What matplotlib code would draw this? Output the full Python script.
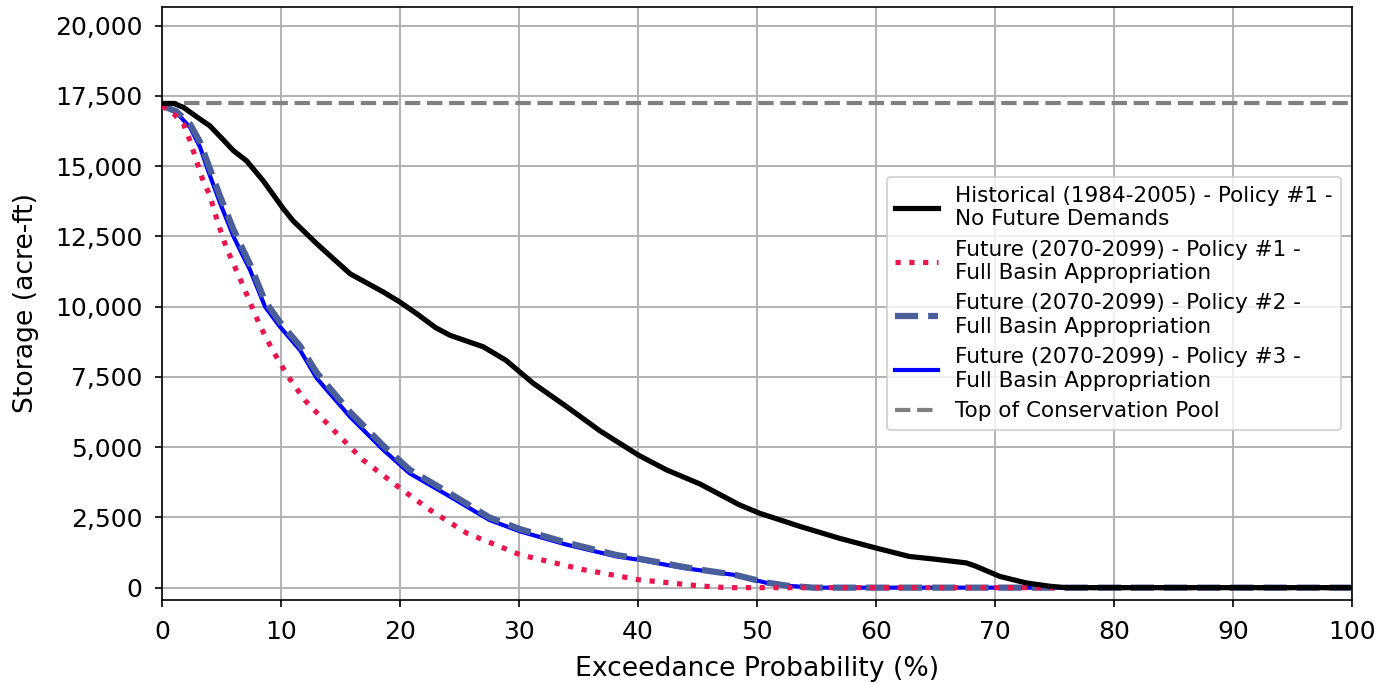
import matplotlib
matplotlib.use("Agg")
import matplotlib.pyplot as plt
from matplotlib.ticker import FuncFormatter

# exceedance probability (%) / storage (acre-ft)
hist_x = [0, 1.0, 1.8, 3.2, 4.0, 5.0, 6.0, 7.1, 8.5, 10.2, 11.0, 13.0, 15.8, 18.6, 20.0,
          21.4, 23.0, 24.2, 27.0, 28.9, 31.2, 34.0, 36.8, 40.1, 42.4, 45.2, 48.5, 50.2,
          53.6, 56.9, 60.0, 62.8, 64.8, 67.6, 68.4, 70.4, 72.6, 74.6, 76.0, 100]
hist_y = [17230, 17230, 17090, 16670, 16440, 16000, 15550, 15190, 14480, 13480, 13060, 12240,
          11170, 10520, 10160, 9750, 9250, 8980, 8570, 8090, 7270, 6440, 5580, 4700, 4190,
          3690, 2950, 2650, 2180, 1760, 1410, 1110, 1020, 880, 760, 400, 170, 50, 0, 0]

p1_x = [0, 1.0, 1.8, 2.35, 3.47, 4.0, 4.7, 5.4, 6.5, 7.4, 8.25, 9.35, 10.6, 12.0, 14.4,
        16.9, 20.0, 22.5, 25.6, 30.1, 35.4, 40.1, 45.2, 47.5, 100]
p1_y = [17150, 16850, 16500, 15900, 14450, 13975, 12970, 12100, 11050, 10150, 9300, 8400,
        7510, 6670, 5610, 4540, 3540, 2770, 1940, 1170, 640, 280, 60, 0, 0]

p2_x = [0, 1.2, 2.35, 3.2, 3.85, 4.9, 6.0, 6.55, 7.4, 8.65, 9.9, 11.6, 13.0, 15.8, 18.6,
        20.8, 24.2, 27.5, 30.1, 34.0, 38.2, 40.1, 43.8, 45.2, 48.0, 50.8, 52.5, 54.7, 100]
p2_y = [17150, 16950, 16500, 15850, 15100, 13900, 12750, 12250, 11500, 10200, 9450, 8600,
        7650, 6250, 5050, 4200, 3350, 2500, 2080, 1600, 1160, 1030, 740, 640, 470, 180, 70, 0, 0]

p3_x = [0, 1.2, 2.35, 3.2, 3.85, 4.9, 6.0, 6.55, 7.4, 8.65, 9.9, 11.6, 13.0, 15.8, 18.6,
        20.8, 24.2, 27.5, 30.1, 34.0, 38.2, 40.1, 43.8, 45.2, 48.0, 50.8, 52.5, 54.7, 100]
p3_y = [17150, 16910, 16380, 15670, 14860, 13660, 12500, 12020, 11300, 10000, 9290, 8450,
        7450, 6080, 4900, 4070, 3240, 2410, 2000, 1530, 1110, 990, 700, 620, 460, 170, 70, 0, 0]

pool_top = 17230

labels = [
    "Historical (1984-2005) - Policy #1 -\nNo Future Demands",
    "Future (2070-2099) - Policy #1 -\nFull Basin Appropriation",
    "Future (2070-2099) - Policy #2 -\nFull Basin Appropriation",
    "Future (2070-2099) - Policy #3 -\nFull Basin Appropriation",
    "Top of Conservation Pool",
]

fig = plt.figure(figsize=(1384 / 150, 683 / 150), dpi=150)
ax = fig.add_axes([0.1171, 0.1215, 0.8598, 0.8683])

h3, = ax.plot(p3_x, p3_y, color="#0000ff", lw=2.0, zorder=2, label=labels[3])
h2, = ax.plot(p2_x, p2_y, color="#4a5f99", lw=3.0, ls="--", zorder=3, label=labels[2])
h1, = ax.plot(p1_x, p1_y, color="#e8174f", lw=2.5, ls=":", zorder=4, label=labels[1])
hp = ax.axhline(pool_top, color="#808080", lw=2.0, ls="--", zorder=4.5, label=labels[4])
h0, = ax.plot(hist_x, hist_y, color="black", lw=2.5, zorder=5, label=labels[0])

ax.set_xlim(0, 100)
ax.set_ylim(-440, 20665)
ax.set_xticks(range(0, 101, 10))
ax.set_yticks(range(0, 20001, 2500))
ax.yaxis.set_major_formatter(FuncFormatter(lambda v, p: f"{int(v):,}"))
ax.tick_params(labelsize=12, pad=6)
ax.grid(True, color="#b0b0b0", lw=0.9)
ax.set_axisbelow(True)

ax.set_xlabel("Exceedance Probability (%)", fontsize=12.8, labelpad=6)
ax.set_ylabel("Storage (acre-ft)", fontsize=12.8, labelpad=7.5)

ax.legend(handles=[h0, h1, h2, h3, hp], loc="center right", fontsize=10.3)

fig.savefig("out.png", dpi=150)
